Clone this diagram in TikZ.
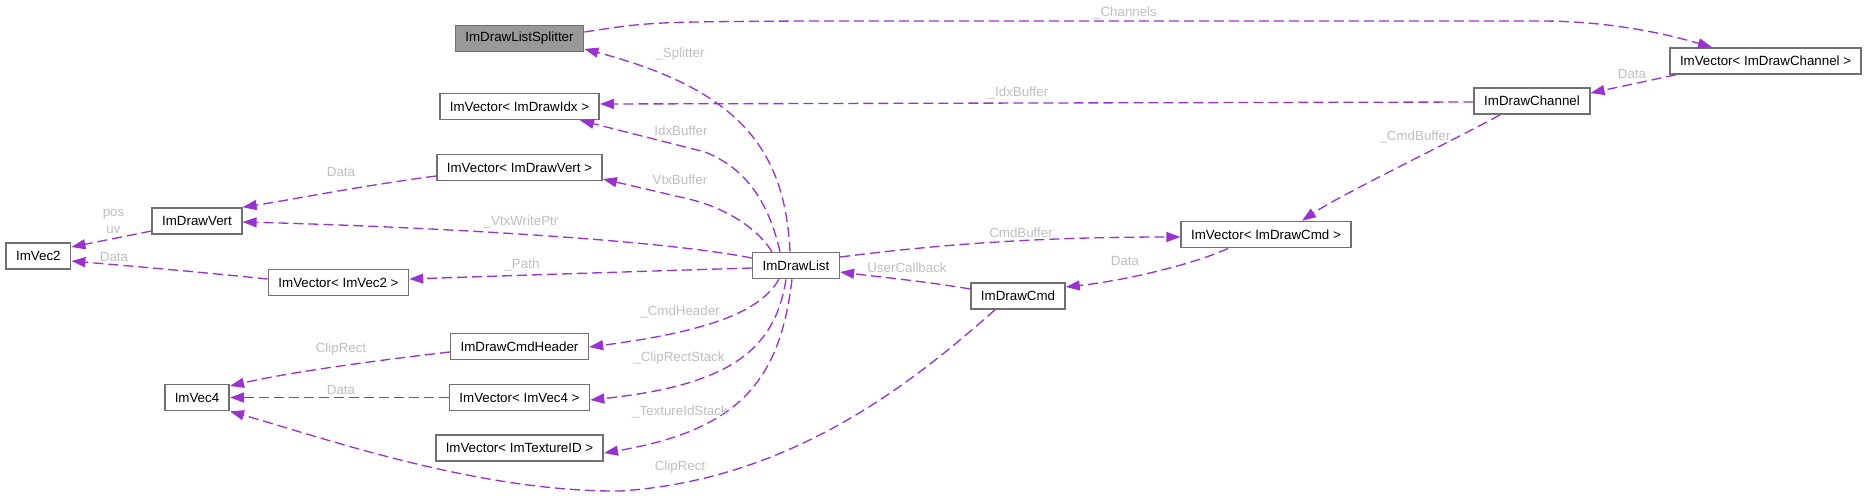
\documentclass[tikz,border=0pt]{standalone}
\usepackage{fontspec}
\setmainfont{Liberation Sans}
\usetikzlibrary{arrows.meta}
\definecolor{edgepurple}{HTML}{9A32CD}
\definecolor{boxgray}{HTML}{707070}
\definecolor{fillgray}{HTML}{999999}
\definecolor{labelgray}{HTML}{BEBEBE}

\begin{document}
\begin{tikzpicture}[x=0.75pt, y=-0.75pt, >={Triangle[length=10.5pt,width=7.5pt]},
    cls/.style={draw=boxgray, line width=1.2pt, fill=white, inner xsep=7.5pt, inner ysep=0pt,
        minimum height=19.5pt, font=\fontsize{10}{12}\selectfont},
    curcls/.style={cls, fill=fillgray},
    assoc/.style={->, draw=edgepurple, fill=none, line width=1pt, dash pattern=on 7.5pt off 3.75pt},
    lbl/.style={text=labelgray, inner sep=0pt, font=\fontsize{10}{12.75}\selectfont}]
        \useasboundingbox (0,0) rectangle (1868,497);

        % ==== CLASSES ====
        \node[curcls] (splitter) at (519.5,38.5)  {ImDrawListSplitter};
        \node[cls]    (vidx)     at (519.5,106.5) {ImVector< ImDrawIdx >};
        \node[cls]    (vvert)    at (519.5,167.5) {ImVector< ImDrawVert >};
        \node[cls]    (vert)     at (197,221)     {ImDrawVert};
        \node[cls]    (vec2)     at (38.4,256)    {ImVec2};
        \node[cls]    (vvec2)    at (338.5,282.5) {ImVector< ImVec2 >};
        \node[cls]    (hdr)      at (519.5,346.5) {ImDrawCmdHeader};
        \node[cls]    (vec4)     at (197,397.5)   {ImVec4};
        \node[cls]    (vvec4)    at (519.5,397.5) {ImVector< ImVec4 >};
        \node[cls]    (vtex)     at (519.5,448)   {ImVector< ImTextureID >};
        \node[cls]    (list)     at (796,265.5)   {ImDrawList};
        \node[cls]    (cmd)      at (1018,296)    {ImDrawCmd};
        \node[cls]    (vcmd)     at (1266,234.5)  {ImVector< ImDrawCmd >};
        \node[cls]    (chan)     at (1532,101)    {ImDrawChannel};
        \node[cls]    (vchan)    at (1765.6,61)   {ImVector< ImDrawChannel >};

        % ==== MEMBERS OF ImDrawList ====
        \draw[assoc] (list.north -| 790,0) .. controls (785,150) and (740,90) .. (splitter.east |- 0,49);
        \draw[assoc] (list.north -| 780,0) .. controls (768,200) and (745,168) .. (705,152) -- (vidx.south -| 580,0);
        \draw[assoc] (list.north -| 772,0) .. controls (755,225) and (720,205) .. (680,197) -- (vvert.east |- 0,179);
        \draw[assoc] (list.west |- 0,258) .. controls (650,238) and (400,226) .. (vert.east |- 0,222);
        \draw[assoc] (list.west |- 0,268) .. controls (650,271) and (500,276) .. (vvec2.east |- 0,279);
        \draw[assoc] (list.east |- 0,257) .. controls (950,243) and (1050,237) .. (vcmd.west |- 0,237);
        \draw[assoc] (list.south -| 779,0) .. controls (762,308) and (720,330) .. (hdr.east |- 0,347);
        \draw[assoc] (list.south -| 786,0) .. controls (775,350) and (730,385) .. (vvec4.east |- 0,400);
        \draw[assoc] (list.south -| 792,0) .. controls (780,380) and (740,430) .. (vtex.east |- 0,453);

        % ==== SPLITTER / CHANNELS ====
        \draw[assoc] (splitter.east |- 0,32) .. controls (650,22) .. (800,21) -- (1540,21)
            .. controls (1620,21) and (1680,38) .. (vchan.north -| 1712,0);
        \draw[assoc] (vchan.south -| 1676,0) -- (chan.east |- 0,93);
        \draw[assoc] (chan.west |- 0,102) -- (vidx.east |- 0,104);
        \draw[assoc] (chan.south -| 1500,0) .. controls (1470,132) and (1340,195) .. (vcmd.north -| 1302,0);

        % ==== COMMANDS ====
        \draw[assoc] (vcmd.south -| 1228,0) .. controls (1200,262) and (1130,280) .. (cmd.east |- 0,287);
        \draw[assoc] (cmd.west |- 0,289) .. controls (930,282) and (880,277) .. (list.east |- 0,272);
        \draw[assoc] (cmd.south -| 995,0) .. controls (910,385) and (790,480) .. (620,491)
            .. controls (480,492) and (330,440) .. (vec4.south east);

        % ==== VECTORS ====
        \draw[assoc] (vvert.west |- 0,176) .. controls (360,186) and (290,200) .. (vert.north east);
        \draw[assoc] (vert.west |- 0,231) -- (vec2.east |- 0,247);
        \draw[assoc] (vvec2.west |- 0,279) .. controls (200,272) and (130,266) .. (vec2.east |- 0,261);
        \draw[assoc] (hdr.west |- 0,352) .. controls (380,360) and (290,372) .. (vec4.east |- 0,386);
        \draw[assoc] (vvec4.west) -- (vec4.east);

        % === LABELS ===
        \node[lbl] (lChannels)   at (1125,13)   {\_Channels};
        \node[lbl] (lSplitter)   at (680,54)    {\_Splitter};
        \node[lbl] (lIdxBufChan) at (1018,93)   {\_IdxBuffer};
        \node[lbl] (lIdxBuf)     at (681,131)   {IdxBuffer};
        \node[lbl] (lVtxBuf)     at (680,180)   {VtxBuffer};
        \node[lbl] (lCmdBuf)     at (1021,233)  {CmdBuffer};
        \node[lbl] (lDataCmd)    at (1125,261)  {Data};
        \node[lbl] (lCallback)   at (907,268)   {UserCallback};
        \node[lbl] (lCmdHeader)  at (680,312)   {\_CmdHeader};
        \node[lbl] (lClipStack)  at (679,358)   {\_ClipRectStack};
        \node[lbl] (lTexStack)   at (680,412)   {\_TextureIdStack};
        \node[lbl] (lClipCmd)    at (680,467)   {ClipRect};
        \node[lbl] (lDataVert)   at (341,172)   {Data};
        \node[lbl] (lWritePtr)   at (521,222)   {\_VtxWritePtr};
        \node[lbl, align=center] (lPosUv) at (113.5,221.5) {pos\\uv};
        \node[lbl] (lDataVec2)   at (114,257)   {Data};
        \node[lbl] (lPath)       at (522,265)   {\_Path};
        \node[lbl] (lClipHdr)    at (341,349)   {ClipRect};
        \node[lbl] (lDataVec4)   at (341,390)   {Data};
        \node[lbl] (lDataChan)   at (1632,74)   {Data};
        \node[lbl] (lCmdBufChan) at (1415,137)  {\_CmdBuffer};

    \end{tikzpicture}
\end{document}
